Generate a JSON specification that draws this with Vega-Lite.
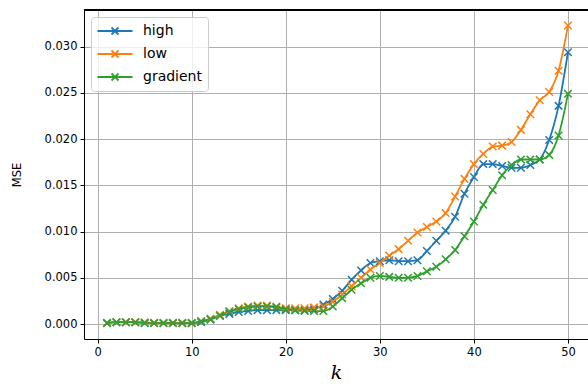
{
  "$schema": "https://vega.github.io/schema/vega-lite/v6.json",
  "width": 504,
  "height": 329,
  "autosize": {"type": "none"},
  "padding": {"left": 84, "top": 10, "right": 0, "bottom": 47},
  "background": "white",
  "config": {
    "view": {"stroke": null},
    "font": "DejaVu Sans",
    "axis": {
      "labelFont": "DejaVu Sans",
      "labelFontSize": 11.5,
      "labelColor": "black",
      "domainColor": "black",
      "domainWidth": 1,
      "tickColor": "black",
      "tickSize": 4,
      "tickWidth": 1,
      "gridColor": "#b0b0b0",
      "gridWidth": 1,
      "titleFontWeight": "normal",
      "titleColor": "black"
    }
  },
  "data": {
    "values": [
      {"k":1,"series":"high","mse":0.0001},{"k":1,"series":"low","mse":0.0001},{"k":1,"series":"gradient","mse":0.0001},
      {"k":2,"series":"high","mse":0.0002},{"k":2,"series":"low","mse":0.0002},{"k":2,"series":"gradient","mse":0.0002},
      {"k":3,"series":"high","mse":0.0002},{"k":3,"series":"low","mse":0.0002},{"k":3,"series":"gradient","mse":0.0002},
      {"k":4,"series":"high","mse":0.0002},{"k":4,"series":"low","mse":0.0002},{"k":4,"series":"gradient","mse":0.0002},
      {"k":5,"series":"high","mse":0.0001},{"k":5,"series":"low","mse":0.0002},{"k":5,"series":"gradient","mse":0.0001},
      {"k":6,"series":"high","mse":0.0001},{"k":6,"series":"low","mse":0.0001},{"k":6,"series":"gradient","mse":0.0001},
      {"k":7,"series":"high","mse":0.0001},{"k":7,"series":"low","mse":0.0001},{"k":7,"series":"gradient","mse":0.0001},
      {"k":8,"series":"high","mse":0.0001},{"k":8,"series":"low","mse":0.0001},{"k":8,"series":"gradient","mse":0.0001},
      {"k":9,"series":"high","mse":0.0001},{"k":9,"series":"low","mse":0.0001},{"k":9,"series":"gradient","mse":0.0001},
      {"k":10,"series":"high","mse":0.0001},{"k":10,"series":"low","mse":0.0001},{"k":10,"series":"gradient","mse":0.0001},
      {"k":11,"series":"high","mse":0.0002},{"k":11,"series":"low","mse":0.0003},{"k":11,"series":"gradient","mse":0.0003},
      {"k":12,"series":"high","mse":0.0005},{"k":12,"series":"low","mse":0.0006},{"k":12,"series":"gradient","mse":0.0005},
      {"k":13,"series":"high","mse":0.0009},{"k":13,"series":"low","mse":0.0010},{"k":13,"series":"gradient","mse":0.0009},
      {"k":14,"series":"high","mse":0.0011},{"k":14,"series":"low","mse":0.0014},{"k":14,"series":"gradient","mse":0.0013},
      {"k":15,"series":"high","mse":0.0013},{"k":15,"series":"low","mse":0.0017},{"k":15,"series":"gradient","mse":0.0016},
      {"k":16,"series":"high","mse":0.0014},{"k":16,"series":"low","mse":0.0019},{"k":16,"series":"gradient","mse":0.0018},
      {"k":17,"series":"high","mse":0.0015},{"k":17,"series":"low","mse":0.0020},{"k":17,"series":"gradient","mse":0.0019},
      {"k":18,"series":"high","mse":0.0015},{"k":18,"series":"low","mse":0.0020},{"k":18,"series":"gradient","mse":0.0019},
      {"k":19,"series":"high","mse":0.0015},{"k":19,"series":"low","mse":0.0019},{"k":19,"series":"gradient","mse":0.0018},
      {"k":20,"series":"high","mse":0.0015},{"k":20,"series":"low","mse":0.0017},{"k":20,"series":"gradient","mse":0.0016},
      {"k":21,"series":"high","mse":0.0015},{"k":21,"series":"low","mse":0.0017},{"k":21,"series":"gradient","mse":0.0015},
      {"k":22,"series":"high","mse":0.0015},{"k":22,"series":"low","mse":0.0017},{"k":22,"series":"gradient","mse":0.0014},
      {"k":23,"series":"high","mse":0.0016},{"k":23,"series":"low","mse":0.0018},{"k":23,"series":"gradient","mse":0.0014},
      {"k":24,"series":"high","mse":0.0021},{"k":24,"series":"low","mse":0.0019},{"k":24,"series":"gradient","mse":0.0014},
      {"k":25,"series":"high","mse":0.0027},{"k":25,"series":"low","mse":0.0024},{"k":25,"series":"gradient","mse":0.0019},
      {"k":26,"series":"high","mse":0.0036},{"k":26,"series":"low","mse":0.0032},{"k":26,"series":"gradient","mse":0.0028},
      {"k":27,"series":"high","mse":0.0048},{"k":27,"series":"low","mse":0.0041},{"k":27,"series":"gradient","mse":0.0037},
      {"k":28,"series":"high","mse":0.0058},{"k":28,"series":"low","mse":0.0050},{"k":28,"series":"gradient","mse":0.0044},
      {"k":29,"series":"high","mse":0.0066},{"k":29,"series":"low","mse":0.0059},{"k":29,"series":"gradient","mse":0.0050},
      {"k":30,"series":"high","mse":0.0068},{"k":30,"series":"low","mse":0.0066},{"k":30,"series":"gradient","mse":0.0052},
      {"k":31,"series":"high","mse":0.0069},{"k":31,"series":"low","mse":0.0074},{"k":31,"series":"gradient","mse":0.0051},
      {"k":32,"series":"high","mse":0.0068},{"k":32,"series":"low","mse":0.0081},{"k":32,"series":"gradient","mse":0.0050},
      {"k":33,"series":"high","mse":0.0068},{"k":33,"series":"low","mse":0.0090},{"k":33,"series":"gradient","mse":0.0050},
      {"k":34,"series":"high","mse":0.0069},{"k":34,"series":"low","mse":0.0099},{"k":34,"series":"gradient","mse":0.0052},
      {"k":35,"series":"high","mse":0.0079},{"k":35,"series":"low","mse":0.0105},{"k":35,"series":"gradient","mse":0.0057},
      {"k":36,"series":"high","mse":0.0090},{"k":36,"series":"low","mse":0.0111},{"k":36,"series":"gradient","mse":0.0062},
      {"k":37,"series":"high","mse":0.0101},{"k":37,"series":"low","mse":0.0120},{"k":37,"series":"gradient","mse":0.0070},
      {"k":38,"series":"high","mse":0.0116},{"k":38,"series":"low","mse":0.0138},{"k":38,"series":"gradient","mse":0.0080},
      {"k":39,"series":"high","mse":0.0141},{"k":39,"series":"low","mse":0.0157},{"k":39,"series":"gradient","mse":0.0095},
      {"k":40,"series":"high","mse":0.0159},{"k":40,"series":"low","mse":0.0173},{"k":40,"series":"gradient","mse":0.0111},
      {"k":41,"series":"high","mse":0.0173},{"k":41,"series":"low","mse":0.0184},{"k":41,"series":"gradient","mse":0.0129},
      {"k":42,"series":"high","mse":0.0173},{"k":42,"series":"low","mse":0.0192},{"k":42,"series":"gradient","mse":0.0145},
      {"k":43,"series":"high","mse":0.0171},{"k":43,"series":"low","mse":0.0193},{"k":43,"series":"gradient","mse":0.0161},
      {"k":44,"series":"high","mse":0.0169},{"k":44,"series":"low","mse":0.0197},{"k":44,"series":"gradient","mse":0.0172},
      {"k":45,"series":"high","mse":0.0169},{"k":45,"series":"low","mse":0.0210},{"k":45,"series":"gradient","mse":0.0178},
      {"k":46,"series":"high","mse":0.0172},{"k":46,"series":"low","mse":0.0227},{"k":46,"series":"gradient","mse":0.0178},
      {"k":47,"series":"high","mse":0.0178},{"k":47,"series":"low","mse":0.0242},{"k":47,"series":"gradient","mse":0.0178},
      {"k":48,"series":"high","mse":0.0199},{"k":48,"series":"low","mse":0.0251},{"k":48,"series":"gradient","mse":0.0183},
      {"k":49,"series":"high","mse":0.0236},{"k":49,"series":"low","mse":0.0274},{"k":49,"series":"gradient","mse":0.0204},
      {"k":50,"series":"high","mse":0.0294},{"k":50,"series":"low","mse":0.0323},{"k":50,"series":"gradient","mse":0.0249}
    ]
  },
  "encoding": {
    "x": {
      "field": "k", "type": "quantitative",
      "scale": {"domain": [-1.45, 52.13], "nice": false, "zero": false},
      "axis": {"values": [0, 10, 20, 30, 40, 50], "title": "k", "titleFont": "DejaVu Serif", "titleFontStyle": "italic", "titleFontSize": 19, "titlePadding": 6, "labelPadding": 3}
    },
    "y": {
      "field": "mse", "type": "quantitative",
      "scale": {"domain": [-0.00162, 0.03397], "nice": false, "zero": false},
      "axis": {"values": [0, 0.005, 0.01, 0.015, 0.02, 0.025, 0.03], "format": ".3f", "title": "MSE", "titleFontSize": 11.5, "titleFont": "DejaVu Sans", "titlePadding": 22, "labelPadding": 3}
    },
    "color": {
      "field": "series", "type": "nominal",
      "scale": {"domain": ["high", "low", "gradient"], "range": ["#1f77b4", "#ff7f0e", "#2ca02c"]},
      "legend": {
        "title": null,
        "orient": "top-left",
        "offset": 7,
        "padding": 6,
        "fillColor": "rgba(255,255,255,0.8)",
        "strokeColor": "#cccccc",
        "cornerRadius": 3,
        "labelFont": "DejaVu Sans",
        "labelFontSize": 14,
        "labelColor": "black",
        "symbolType": "M-2.5,0H2.5M-0.5,-0.5L0.5,0.5M0.5,-0.5L-0.5,0.5",
        "symbolSize": 196,
        "symbolStrokeWidth": 1.8,
        "symbolOffset": 10,
        "labelOffset": 20,
        "rowPadding": 7
      }
    }
  },
  "layer": [
    {
      "mark": {"type": "rule", "color": "black", "strokeWidth": 1},
      "encoding": {"y": {"datum": 0.03397}, "x": null, "color": null}
    },
    {
      "mark": {"type": "line", "strokeWidth": 1.8, "interpolate": "monotone"}
    },
    {
      "mark": {"type": "point", "shape": "M-1,-1L1,1M1,-1L-1,1", "size": 56, "filled": false, "strokeWidth": 1.5, "opacity": 1}
    }
  ]
}
